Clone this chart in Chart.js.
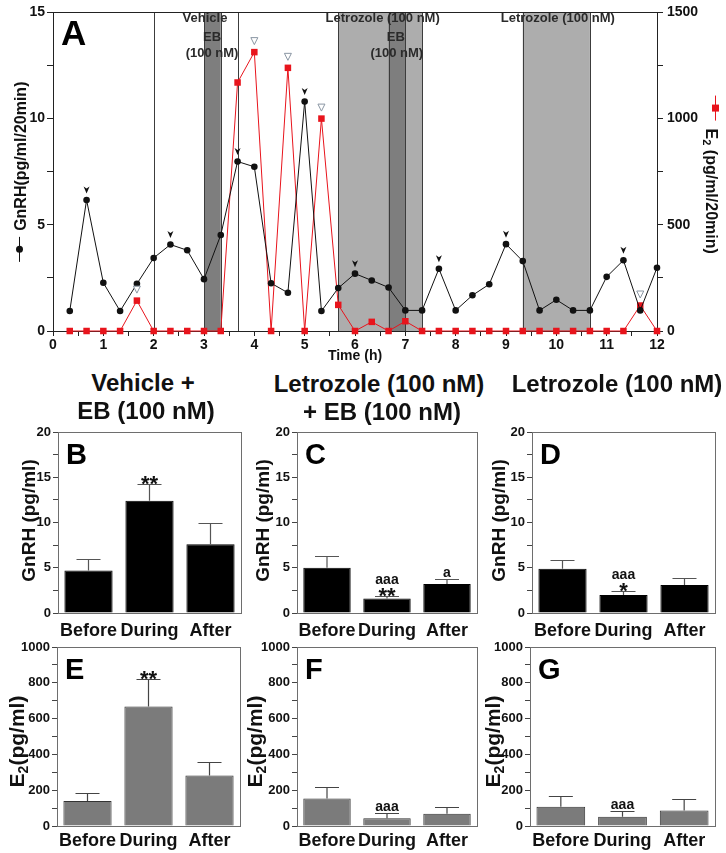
<!DOCTYPE html>
<html>
<head>
<meta charset="utf-8">
<script src="https://cdn.jsdelivr.net/npm/chart.js@4.4.1/dist/chart.umd.min.js"></script>
<style>
  body { margin: 0; background: #fff; }
  #fig { position: relative; width: 726px; height: 853px; overflow: hidden; background: #fff; }
  canvas { position: absolute; }
  .ttl { position: absolute; width: 280px; text-align: center; font: bold 24px/24px 'Liberation Sans', Arial, sans-serif; color: #111; white-space: nowrap; z-index: 2; }
</style>
</head>
<body>
<div id="fig">
  <canvas id="cA" width="726" height="368" style="left:0;top:0"></canvas>
  <canvas id="cB" width="250" height="232" style="left:0;top:420px"></canvas>
  <canvas id="cC" width="245" height="232" style="left:240px;top:420px"></canvas>
  <canvas id="cD" width="246" height="232" style="left:480px;top:420px"></canvas>
  <canvas id="cE" width="250" height="217" style="left:0;top:636px"></canvas>
  <canvas id="cF" width="245" height="217" style="left:240px;top:636px"></canvas>
  <canvas id="cG" width="246" height="217" style="left:480px;top:636px"></canvas>

  <div class="ttl" style="left:3px;top:371px">Vehicle +</div>
  <div class="ttl" style="left:6px;top:399px">EB (100 nM)</div>
  <div class="ttl" style="left:239px;top:372px">Letrozole (100 nM)</div>
  <div class="ttl" style="left:242px;top:400px">+ EB (100 nM)</div>
  <div class="ttl" style="left:477px;top:372px">Letrozole (100 nM)</div>
</div>
<script>
const FONT = "'Liberation Sans', Arial, sans-serif";

// panel A: 20-min samples
const times = [0.333, 0.667, 1, 1.333, 1.667, 2, 2.333, 2.667, 3, 3.333, 3.667, 4,
  4.333, 4.667, 5, 5.333, 5.667, 6, 6.333, 6.667, 7, 7.333, 7.667, 8,
  8.333, 8.667, 9, 9.333, 9.667, 10, 10.333, 10.667, 11, 11.333, 11.667, 12];
const gnrhPulse = [0.94, 6.17, 2.27, 0.94, 2.22, 3.44, 4.07, 3.80, 2.44, 4.52, 7.98, 7.73,
  2.25, 1.80, 10.80, 0.94, 2.02, 2.70, 2.38, 2.05, 0.97, 0.97, 2.93, 0.97,
  1.68, 2.20, 4.09, 3.29, 0.97, 1.47, 0.97, 0.97, 2.55, 3.33, 0.97, 2.98];
const e2Pulse = [0, 0, 0, 0, 143, 0, 0, 0, 0, 0, 1170, 1313,
  0, 1239, 0, 1000, 123, 0, 43, 0, 46, 0, 0, 0,
  0, 0, 0, 0, 0, 0, 0, 0, 0, 0, 120, 0];
const gnrhPeaks = [1, 6, 10, 14, 17, 22, 26, 33];
const e2Peaks = [4, 11, 13, 15, 34];

// treatment periods (h)
const vehicleLines = [2, 3.667];
const lightBands = [[5.667, 7.333], [9.333, 10.667]];
const darkBands = [[3.0, 3.333], [6.667, 7.0]];

// panels B-G
const phases = ['Before', 'During', 'After'];
const gnrhVehEB = [4.7, 12.4, 7.6];
const gnrhVehEBSem = [1.25, 1.8, 2.4];
const gnrhLetEB = [5.0, 1.6, 3.2];
const gnrhLetEBSem = [1.25, 0.25, 0.58];
const gnrhLet = [4.9, 2.0, 3.1];
const gnrhLetSem = [1.0, 0.4, 0.75];
const e2VehEB = [139, 667, 282];
const e2VehEBSem = [43, 155, 78];
const e2LetEB = [154, 43, 68];
const e2LetEBSem = [64, 31, 38];
const e2Let = [108, 52, 87];
const e2LetSem = [59, 30, 62];

const marksB = [[], ['**'], []];
const marksC = [[], ['**', 'aaa'], ['a']];
const marksD = [[], ['*', 'aaa'], []];
const marksE = [[], ['**'], []];
const marksF = [[], ['aaa'], []];
const marksG = [[], ['aaa'], []];

Chart.defaults.font.family = FONT;
Chart.defaults.font.weight = 'bold';
Chart.defaults.color = '#111';

function partFont(p, size) {
  return `bold ${p.sub ? Math.round(size * 0.68) : size}px ${FONT}`;
}
function measureParts(ctx, size, parts) {
  let w = 0;
  parts.forEach(p => { ctx.font = partFont(p, size); w += ctx.measureText(p.t).width; });
  return w;
}
function drawRotLabel(ctx, cx, cy, rot, size, parts) {
  ctx.save();
  ctx.translate(cx, cy);
  ctx.rotate(rot);
  ctx.fillStyle = '#111';
  ctx.textAlign = 'left';
  ctx.textBaseline = 'alphabetic';
  let x = -measureParts(ctx, size, parts) / 2;
  parts.forEach(p => {
    ctx.font = partFont(p, size);
    ctx.fillText(p.t, x, size * 0.36 + (p.sub ? size * 0.22 : 0));
    x += ctx.measureText(p.t).width;
  });
  ctx.restore();
}

const panelA = {
  id: 'panelA',
  beforeDatasetsDraw(chart) {
    const {ctx, chartArea: ca, scales: {x}} = chart;
    const px = t => x.getPixelForValue(t);
    const h = ca.bottom - ca.top;
    ctx.save();
    ctx.fillStyle = '#adadad';
    lightBands.forEach(([a, b]) => ctx.fillRect(px(a), ca.top, px(b) - px(a), h));
    ctx.fillStyle = '#7e7e7e';
    darkBands.forEach(([a, b]) => ctx.fillRect(px(a), ca.top, px(b) - px(a), h));
    ctx.strokeStyle = '#3c3c3c';
    ctx.lineWidth = 1;
    ctx.beginPath();
    [...vehicleLines, ...lightBands.flat(), ...darkBands.flat()].forEach(t => {
      const xx = Math.round(px(t)) + 0.5;
      ctx.moveTo(xx, ca.top);
      ctx.lineTo(xx, ca.bottom);
    });
    ctx.stroke();
    ctx.strokeStyle = '#222';
    ctx.beginPath();
    ctx.moveTo(ca.left, Math.round(ca.top) + 0.5);
    ctx.lineTo(ca.right, Math.round(ca.top) + 0.5);
    ctx.stroke();
    ctx.restore();
  },
  afterDatasetsDraw(chart) {
    const {ctx} = chart;
    ctx.save();
    const gm = chart.getDatasetMeta(0).data;
    ctx.fillStyle = '#111';
    gnrhPeaks.forEach(i => {
      const x = gm[i].x, y = gm[i].y - 10;
      ctx.beginPath();
      ctx.moveTo(x - 3, y - 3.5);
      ctx.lineTo(x, y - 1.5);
      ctx.lineTo(x + 3, y - 3.5);
      ctx.lineTo(x, y + 3.5);
      ctx.closePath();
      ctx.fill();
    });
    const em = chart.getDatasetMeta(1).data;
    ctx.fillStyle = '#fff';
    ctx.strokeStyle = '#8a96a3';
    ctx.lineWidth = 1;
    e2Peaks.forEach(i => {
      const x = em[i].x, y = em[i].y - 11;
      ctx.beginPath();
      ctx.moveTo(x - 3.5, y - 3.5);
      ctx.lineTo(x + 3.5, y - 3.5);
      ctx.lineTo(x, y + 3.5);
      ctx.closePath();
      ctx.fill();
      ctx.stroke();
    });
    ctx.restore();
  },
  afterDraw(chart, args, o) {
    const {ctx, chartArea: ca, scales: {x}} = chart;
    ctx.save();
    ctx.fillStyle = '#2a2a2a';
    ctx.font = `bold 13px ${FONT}`;
    ctx.textAlign = 'center';
    ctx.textBaseline = 'middle';
    o.labels.forEach(l => ctx.fillText(l.text, x.getPixelForValue(l.t), l.y));

    ctx.fillStyle = '#000';
    ctx.font = `bold 35px ${FONT}`;
    ctx.textAlign = 'left';
    ctx.textBaseline = 'alphabetic';
    ctx.fillText('A', ca.left + 8, ca.top + 33);

    const cy = (ca.top + ca.bottom) / 2;
    // left axis title with GnRH symbol
    const leftParts = [{t: 'GnRH(pg/ml/20min)'}];
    const w1 = measureParts(ctx, 16, leftParts);
    const bottom = cy + (25 + 6 + w1) / 2;
    ctx.strokeStyle = '#111';
    ctx.lineWidth = 1;
    ctx.beginPath();
    ctx.moveTo(19.5, bottom);
    ctx.lineTo(19.5, bottom - 25);
    ctx.stroke();
    ctx.fillStyle = '#111';
    ctx.beginPath();
    ctx.arc(19.5, bottom - 12.5, 3.5, 0, Math.PI * 2);
    ctx.fill();
    drawRotLabel(ctx, 20, bottom - 31 - w1 / 2, -Math.PI / 2, 16, leftParts);

    // right axis title with E2 symbol
    const rightParts = [{t: 'E'}, {t: '2', sub: true}, {t: ' (pg/ml/20min)'}];
    const w2 = measureParts(ctx, 16, rightParts);
    const top = cy + 3 - (25 + 8 + w2) / 2;
    ctx.strokeStyle = '#e8141c';
    ctx.beginPath();
    ctx.moveTo(715.5, top);
    ctx.lineTo(715.5, top + 25);
    ctx.stroke();
    ctx.fillStyle = '#e8141c';
    ctx.fillRect(712, top + 9, 7, 7);
    drawRotLabel(ctx, 712, top + 33 + w2 / 2, Math.PI / 2, 16, rightParts);
    ctx.restore();
  }
};

new Chart(document.getElementById('cA'), {
  type: 'line',
  data: {
    datasets: [
      {
        data: times.map((t, i) => ({x: t, y: gnrhPulse[i]})),
        yAxisID: 'y',
        borderColor: '#111',
        backgroundColor: '#111',
        borderWidth: 1,
        pointStyle: 'circle',
        pointRadius: 3.3,
        pointBorderWidth: 0,
        clip: false,
        order: 0
      },
      {
        data: times.map((t, i) => ({x: t, y: e2Pulse[i]})),
        yAxisID: 'y2',
        borderColor: '#e8141c',
        backgroundColor: '#e8141c',
        borderWidth: 1,
        pointStyle: 'rect',
        pointRadius: 4.6,
        pointBorderWidth: 0,
        clip: false,
        order: 1
      }
    ]
  },
  options: {
    responsive: false,
    animation: false,
    layout: {padding: {top: 7, left: 0, right: 0, bottom: 0}},
    plugins: {
      legend: {display: false},
      tooltip: {enabled: false},
      panelA: {
        labels: [
          {text: 'Vehicle', t: 3.02, y: 18},
          {text: 'EB', t: 3.16, y: 37},
          {text: '(100 nM)', t: 3.16, y: 53},
          {text: 'Letrozole (100 nM)', t: 6.55, y: 18},
          {text: 'EB', t: 6.81, y: 37},
          {text: '(100 nM)', t: 6.83, y: 53},
          {text: 'Letrozole (100 nM)', t: 10.03, y: 18}
        ]
      }
    },
    scales: {
      x: {
        type: 'linear',
        min: 0,
        max: 12,
        ticks: {
          stepSize: 0.5,
          autoSkip: false,
          maxRotation: 0,
          padding: 1,
          font: {size: 14},
          callback: v => Number.isInteger(v) ? v : ''
        },
        grid: {drawOnChartArea: false, tickLength: 5, color: '#222'},
        border: {color: '#222'},
        title: {display: true, text: 'Time (h)', font: {size: 14}, padding: {top: 0, bottom: 3}},
        afterFit: s => { s.height = 37; }
      },
      y: {
        position: 'left',
        min: 0,
        max: 15,
        ticks: {
          stepSize: 2.5,
          autoSkip: false,
          padding: 2,
          font: {size: 14},
          callback: v => v % 5 === 0 ? v : ''
        },
        grid: {drawOnChartArea: false, tickLength: 6, color: '#222'},
        border: {color: '#222'},
        afterFit: s => { s.width = 53; }
      },
      y2: {
        position: 'right',
        min: 0,
        max: 1500,
        ticks: {
          stepSize: 250,
          autoSkip: false,
          padding: 4,
          font: {size: 14},
          callback: v => v % 500 === 0 ? v : ''
        },
        grid: {drawOnChartArea: false, tickLength: 6, color: '#222'},
        border: {color: '#222'},
        afterFit: s => { s.width = 69; }
      }
    }
  },
  plugins: [panelA]
});

const errorBars = {
  id: 'errorBars',
  afterDatasetsDraw(chart, args, o) {
    const {ctx, scales: {y}} = chart;
    const ds = chart.data.datasets[0];
    ctx.save();
    chart.getDatasetMeta(0).data.forEach((bar, i) => {
      const top = Math.round(y.getPixelForValue(ds.data[i] + o.sem[i])) + 0.5;
      ctx.strokeStyle = o.color;
      ctx.lineWidth = 1.2;
      ctx.beginPath();
      ctx.moveTo(bar.x, bar.y);
      ctx.lineTo(bar.x, top);
      ctx.moveTo(bar.x - 12, top);
      ctx.lineTo(bar.x + 12, top);
      ctx.stroke();
      ctx.fillStyle = '#111';
      ctx.textAlign = 'center';
      ctx.textBaseline = 'alphabetic';
      let yy = top - 3;
      (o.marks[i] || []).forEach(m => {
        if (m.startsWith('*')) {
          ctx.font = `bold 22px ${FONT}`;
          const base = yy + 9.2;
          ctx.fillText(m, bar.x, base);
          yy = base - 15.8 - 3;
        } else {
          ctx.font = `bold 14px ${FONT}`;
          ctx.fillText(m, bar.x, yy);
          yy = yy - 7.4 - 3;
        }
      });
    });
    ctx.restore();
  }
};

const panelDecor = {
  id: 'panelDecor',
  afterDraw(chart, args, o) {
    const {ctx, chartArea: ca} = chart;
    ctx.save();
    ctx.strokeStyle = '#6e6e6e';
    ctx.lineWidth = 1;
    ctx.strokeRect(Math.round(ca.left) + 0.5, Math.round(ca.top) + 0.5,
      Math.round(ca.right - ca.left), Math.round(ca.bottom - ca.top));
    ctx.fillStyle = '#000';
    ctx.font = `bold 29px ${FONT}`;
    ctx.textAlign = 'left';
    ctx.textBaseline = 'alphabetic';
    ctx.fillText(o.letter, ca.left + 8, ca.top + 32);
    drawRotLabel(ctx, o.tx, (ca.top + ca.bottom) / 2 + o.dy, -Math.PI / 2, o.tsize, o.title);
    ctx.restore();
  }
};

const gnrhTitle = [{t: 'GnRH (pg/ml)'}];
const e2Title = [{t: 'E'}, {t: '2', sub: true}, {t: '(pg/ml)'}];

function barPanel(id, letter, values, sem, marks, cfg) {
  new Chart(document.getElementById(id), {
    type: 'bar',
    data: {
      labels: phases,
      datasets: [{
        data: values,
        backgroundColor: cfg.fill,
        borderColor: cfg.edge,
        borderWidth: 1,
        barPercentage: 0.79,
        categoryPercentage: 1
      }]
    },
    options: {
      responsive: false,
      animation: false,
      layout: {padding: {top: cfg.top, right: cfg.right, left: 0, bottom: 0}},
      plugins: {
        legend: {display: false},
        tooltip: {enabled: false},
        errorBars: {sem, marks, color: cfg.err},
        panelDecor: {letter, tx: cfg.tx, dy: cfg.dy, tsize: cfg.tsize, title: cfg.title}
      },
      scales: {
        x: {
          grid: {display: false},
          border: {display: true, color: '#6e6e6e'},
          ticks: {font: {size: 18}, padding: cfg.lp, color: '#111', autoSkip: false, maxRotation: 0, minRotation: 0},
          afterFit: s => { s.height = cfg.xh; }
        },
        y: {
          min: 0,
          max: cfg.max,
          ticks: {
            stepSize: cfg.step,
            autoSkip: false,
            padding: 2,
            font: {size: 13},
            callback: v => v % cfg.major === 0 ? v : ''
          },
          grid: {drawOnChartArea: false, tickLength: 5, color: '#444'},
          border: {color: '#6e6e6e'},
          afterFit: s => { s.width = cfg.yw; }
        }
      }
    },
    plugins: [errorBars, panelDecor]
  });
}

const row1 = {fill: '#000', edge: '#000', err: '#555', top: 12, xh: 39, lp: -1, max: 20, step: 2.5, major: 5,
  tsize: 19, title: gnrhTitle, dy: -2};
const row2 = {fill: '#7b7b7b', edge: '#333', err: '#444', top: 11, xh: 27, lp: -4, max: 1000, step: 100, major: 200,
  tsize: 21, title: e2Title, dy: 5};

barPanel('cB', 'B', gnrhVehEB, gnrhVehEBSem, marksB, {...row1, yw: 58, right: 9, tx: 28});
barPanel('cC', 'C', gnrhLetEB, gnrhLetEBSem, marksC, {...row1, yw: 57, right: 8, tx: 22});
barPanel('cD', 'D', gnrhLet, gnrhLetSem, marksD, {...row1, yw: 52, right: 11, tx: 18});
barPanel('cE', 'E', e2VehEB, e2VehEBSem, marksE, {...row2, yw: 57, right: 10, tx: 16});
barPanel('cF', 'F', e2LetEB, e2LetEBSem, marksF, {...row2, yw: 57, right: 8, tx: 14});
barPanel('cG', 'G', e2Let, e2LetSem, marksG, {...row2, yw: 50, right: 11, tx: 12});
</script>
</body>
</html>
